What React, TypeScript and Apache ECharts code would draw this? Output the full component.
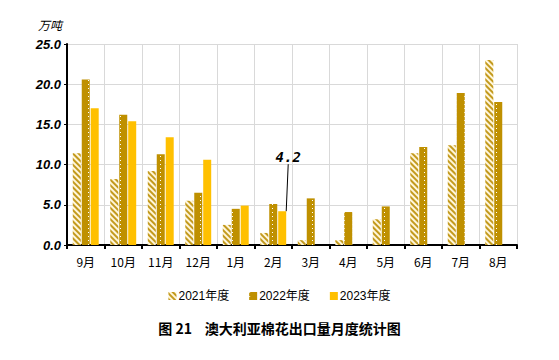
import React, { useEffect, useRef } from 'react';
import * as echarts from 'echarts';

const months = ['9月', '10月', '11月', '12月', '1月', '2月', '3月', '4月', '5月', '6月', '7月', '8月'];
const seriesNames = ['2021年度', '2022年度', '2023年度'];
const fy2021 = [11.4, 8.2, 9.2, 5.5, 2.5, 1.5, 0.6, 0.6, 3.2, 11.4, 12.4, 23.0];
const fy2022 = [20.6, 16.2, 11.3, 6.5, 4.5, 5.1, 5.8, 4.1, 4.8, 12.2, 18.9, 17.8];
const fy2023 = [17.0, 15.4, 13.4, 10.6, 4.9, 4.2];
const labelledIndex = 5;
const yTicks = [0, 5, 10, 15, 20, 25];
const unitLabel = '万吨';
const chartTitle = '图 21    澳大利亚棉花出口量月度统计图';

export default function App() {
  const ref = useRef<HTMLDivElement>(null);
  useEffect(() => {
    if (!ref.current) return;
    document.body.style.margin = '0';
    const chart = echarts.init(ref.current, undefined, { renderer: 'svg' });
    const d2023 = fy2023.map((v, i) =>
      i === labelledIndex
        ? {
            value: v,
            label: {
              show: true,
              position: 'top',
              formatter: (p: any) => Number(p.value).toFixed(1),
              fontFamily: 'DejaVu Sans Mono',
              fontWeight: 'bold',
              fontStyle: 'italic',
              fontSize: 14,
              color: '#000',
            },
            labelLine: { show: true, lineStyle: { color: '#000', width: 1 } },
          }
        : v
    );
    chart.setOption({
      animation: false,
      textStyle: { fontFamily: '"Noto Sans CJK SC", "Liberation Sans", sans-serif' },
      title: {
        text: chartTitle,
        left: 'center',
        top: 316,
        textStyle: { fontSize: 14, fontWeight: 'bold', color: '#000', fontFamily: '"Noto Sans CJK SC", serif' },
      },
      legend: {
        top: 285,
        left: 'center',
        itemWidth: 8,
        itemHeight: 8,
        itemGap: 20,
        icon: 'rect',
        textStyle: { fontSize: 12, color: '#000', fontFamily: '"Liberation Sans", "Noto Sans CJK SC", sans-serif', padding: [0, 0, 0, -3] },
        data: seriesNames,
      },
      grid: { left: 67, right: 42, top: 44, bottom: 115 },
      xAxis: {
        type: 'category',
        data: months,
        axisLine: { lineStyle: { color: '#000', width: 2 } },
        axisTick: { show: true, length: 4, lineStyle: { color: '#000', width: 2 } },
        axisLabel: { fontSize: 12, color: '#000', margin: 10 },
        splitLine: { show: true, lineStyle: { color: '#d9d9d9', width: 1 } },
      },
      yAxis: {
        type: 'value',
        min: yTicks[0],
        max: yTicks[yTicks.length - 1],
        interval: 5,
        name: unitLabel,
        nameLocation: 'end',
        nameGap: 14,
        nameTextStyle: { fontSize: 12, color: '#000', align: 'right', padding: [0, 5, 0, 0], fontStyle: 'italic' },
        axisLine: { show: true, lineStyle: { color: '#000', width: 2 } },
        axisTick: { show: true, length: 3, lineStyle: { color: '#000', width: 1 } },
        axisLabel: {
          fontSize: 13,
          fontWeight: 'bold',
          fontStyle: 'italic',
          color: '#000',
          fontFamily: '"Liberation Sans", Arial, sans-serif',
          margin: 6,
          formatter: (v: number) => v.toFixed(1),
        },
        splitLine: { show: true, lineStyle: { color: '#d9d9d9', width: 1 } },
      },
      series: [
        {
          name: seriesNames[0],
          type: 'bar',
          data: fy2021,
          barWidth: 8,
          barGap: '12%',
          itemStyle: {
            color: '#FFF6DA',
            decal: {
              symbol: 'rect',
              symbolSize: 1,
              dashArrayX: [1, 0],
              dashArrayY: [1.5, 1.5],
              rotation: Math.PI / 4,
              color: '#C39A1E',
            },
          },
        },
        {
          name: seriesNames[1],
          type: 'bar',
          data: fy2022,
          barWidth: 8,
          barGap: '12%',
          itemStyle: {
            color: '#BF9000',
            decal: {
              symbol: 'rect',
              symbolSize: 1,
              dashArrayX: [1, 7],
              dashArrayY: [1, 3],
              color: '#ffffff',
            },
          },
        },
        {
          name: seriesNames[2],
          type: 'bar',
          data: d2023,
          barWidth: 8,
          barGap: '12%',
          itemStyle: { color: '#FFC000' },
          labelLayout: { dx: 6, dy: -42 },
        },
      ],
    });
    return () => chart.dispose();
  }, []);
  return <div ref={ref} style={{ width: 559, height: 360 }} />;
}
